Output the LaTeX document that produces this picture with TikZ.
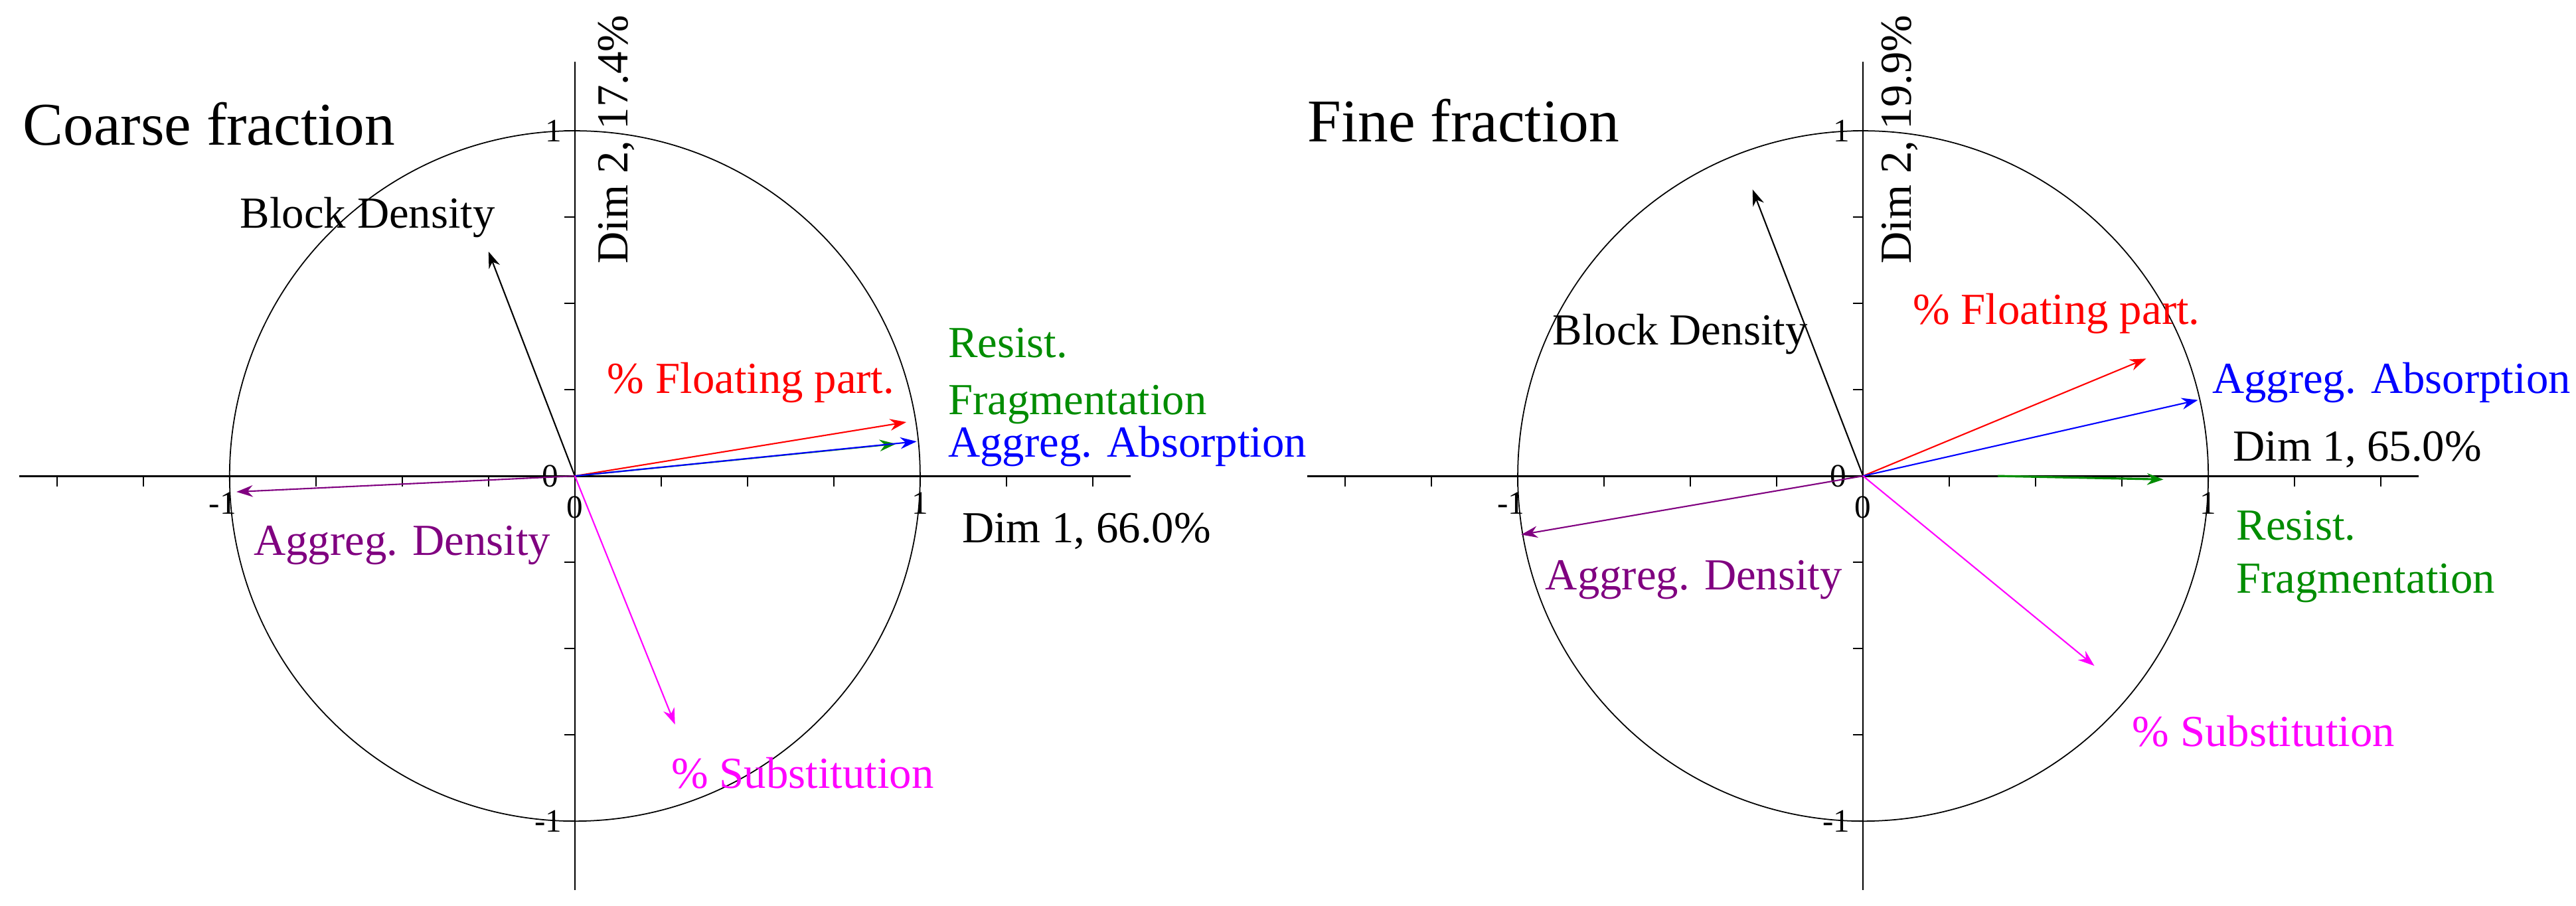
\documentclass[tikz,border=0pt]{standalone}
\usepackage{fontspec}
\setmainfont{Liberation Serif}
\usetikzlibrary{arrows.meta}
\definecolor{mpurple}{rgb}{0.5,0,0.5}
\definecolor{mgreen}{rgb}{0,0.55,0}
\definecolor{mmag}{rgb}{1,0,1}
\definecolor{mred}{rgb}{1,0,0}
\definecolor{mblue}{rgb}{0,0,1}
\tikzset{
  ax/.style={line width=0.9pt},
  vec/.style={line width=0.6pt,-{Stealth[length=7pt,width=5pt]}},
  lab/.style={font=\fontsize{19}{22}\selectfont,inner sep=0pt},
  ttl/.style={font=\fontsize{26}{29}\selectfont,inner sep=0pt,anchor=west},
  tk/.style={font=\fontsize{14}{16}\selectfont,inner sep=1pt},
}
\begin{document}
\begin{tikzpicture}[x=5.2cm,y=5.2cm]
\useasboundingbox (-1.665,-1.244) rectangle (5.796,1.379);
% ---------- Left plot
\begin{scope}
\coordinate (O1) at (0,0);
\draw[ax] (-1.61,0) -- (1.61,0);
\draw[line width=0.6pt] (0,1.2) -- (0,-1.2);
\foreach \t in {-1.5,-1.25,...,1.5} \draw[line width=0.5pt] (\t,0) -- (\t,-0.03);
\foreach \t in {-1,-0.75,...,1} \draw[line width=0.5pt] (0,\t) -- (-0.03,\t);
\draw[line width=0.5pt] (O1) circle (1);
\node[tk,anchor=east] (t1a) at (-0.03,1) {1};
\node[tk,anchor=east] (t1b) at (-0.03,-1) {-1};
\node[tk,anchor=south east] (t1c) at (-0.04,-0.04) {0};
\node[tk,anchor=north] (t1d) at (0,-0.05) {0};
\node[tk,anchor=north] (t1e) at (-1.02,-0.04) {-1};
\node[tk,anchor=north] (t1f) at (1,-0.04) {1};
\node[ttl] (T1) at (-1.6,1.02) {Coarse fraction};
\node[lab,rotate=90] (D21) at (0.12,0.975) {Dim 2, 17.4\%};
\node[lab,anchor=west] (D11) at (1.12,-0.16) {Dim 1, 66.0\%};
\coordinate (a1) at (-0.25,0.65);
\coordinate (b1) at (0.96,0.156);
\coordinate (c1) at (0.99,0.10);
\coordinate (d1) at (0.93,0.093);
\coordinate (e1) at (-0.98,-0.046);
\coordinate (f1) at (0.29,-0.72);
\draw[vec] (O1) -- (a1);
\draw[vec,mred] (O1) -- (b1);
\draw[vec,mgreen] (O1) -- (d1);
\draw[vec,mblue] (O1) -- (c1);
\draw[vec,mpurple] (O1) -- (e1);
\draw[vec,mmag] (O1) -- (f1);
\node[lab] (la1) at (-0.6,0.75) {Block Density};
\node[lab,mred] (lb1) at (0.51,0.27) {\% Floating part.};
\node[lab,mgreen,anchor=west] (ld1a) at (1.08,0.385) {Resist.};
\node[lab,mgreen,anchor=west] (ld1b) at (1.08,0.207) {Fragmentation};
\node[lab,mblue,anchor=west] (lc1) at (1.08,0.085) {Aggreg. Absorption};
\node[lab,mpurple] (le1) at (-0.5,-0.2) {Aggreg. Density};
\node[lab,mmag] (lf1) at (0.66,-0.86) {\% Substitution};
\end{scope}
% ---------- Right plot
\begin{scope}[shift={(3.731,0)}]
\coordinate (O2) at (0,0);
\draw[ax] (-1.61,0) -- (1.61,0);
\draw[line width=0.6pt] (0,1.2) -- (0,-1.2);
\foreach \t in {-1.5,-1.25,...,1.5} \draw[line width=0.5pt] (\t,0) -- (\t,-0.03);
\foreach \t in {-1,-0.75,...,1} \draw[line width=0.5pt] (0,\t) -- (-0.03,\t);
\draw[line width=0.5pt] (O2) circle (1);
\node[tk,anchor=east] (t2a) at (-0.03,1) {1};
\node[tk,anchor=east] (t2b) at (-0.03,-1) {-1};
\node[tk,anchor=south east] (t2c) at (-0.04,-0.04) {0};
\node[tk,anchor=north] (t2d) at (0,-0.05) {0};
\node[tk,anchor=north] (t2e) at (-1.02,-0.04) {-1};
\node[tk,anchor=north] (t2f) at (1,-0.04) {1};
\node[ttl] (T2) at (-1.61,1.03) {Fine fraction};
\node[lab,rotate=90] (D22) at (0.106,0.975) {Dim 2, 19.9\%};
\node[lab,anchor=west] (D12) at (1.07,0.076) {Dim 1, 65.0\%};
\coordinate (a2) at (-0.32,0.83);
\coordinate (b2) at (0.82,0.34);
\coordinate (c2) at (0.97,0.22);
\coordinate (d2s) at (0.39,0);
\coordinate (d2) at (0.87,-0.01);
\coordinate (e2) at (-0.99,-0.17);
\coordinate (f2) at (0.67,-0.55);
\draw[vec] (O2) -- (a2);
\draw[vec,mred] (O2) -- (b2);
\draw[vec,mblue] (O2) -- (c2);
\draw[vec,mgreen,line width=0.9pt] (d2s) -- (d2);
\draw[vec,mpurple] (O2) -- (e2);
\draw[vec,mmag] (O2) -- (f2);
\node[lab] (la2) at (-0.53,0.41) {Block Density};
\node[lab,mred] (lb2) at (0.56,0.47) {\% Floating part.};
\node[lab,mblue,anchor=west] (lc2) at (1.01,0.27) {Aggreg. Absorption};
\node[lab,mgreen,anchor=west] (ld2a) at (1.08,-0.144) {Resist.};
\node[lab,mgreen,anchor=west] (ld2b) at (1.08,-0.31) {Fragmentation};
\node[lab,mpurple] (le2) at (-0.49,-0.30) {Aggreg. Density};
\node[lab,mmag] (lf2) at (1.16,-0.74) {\% Substitution};
\end{scope}
\end{tikzpicture}
\end{document}
